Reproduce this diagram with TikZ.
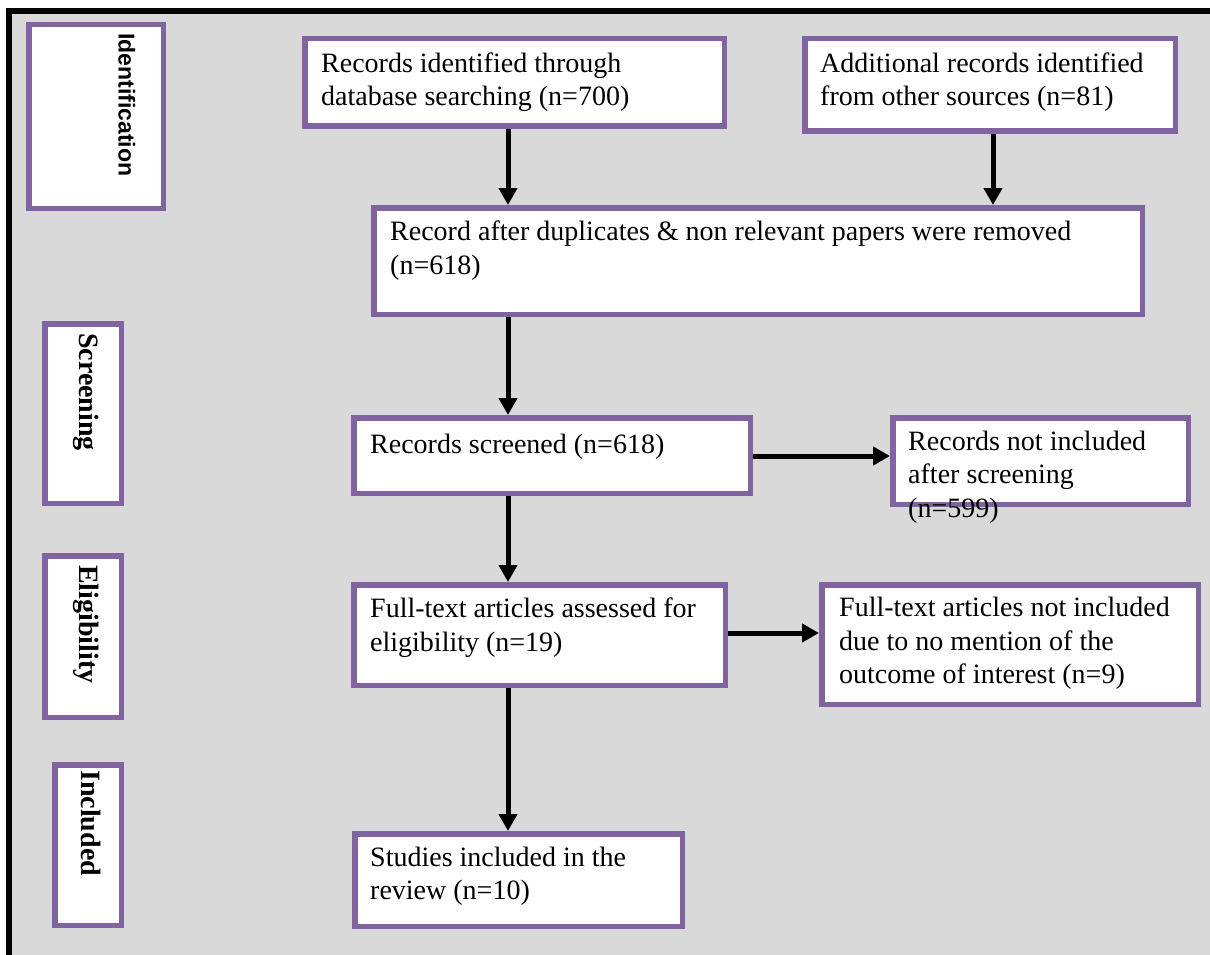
\documentclass[tikz,border=0pt]{standalone}
\usepackage{fontspec}
\setmainfont{Liberation Serif}
\newfontfamily\labsans{Liberation Sans}
\usetikzlibrary{fit,arrows.meta}
\definecolor{boxpurple}{RGB}{128,100,162}
\definecolor{bggray}{RGB}{217,217,217}
\newcommand{\boxtext}[1]{\begin{tabular}[t]{@{}l@{}}#1\end{tabular}}
\newcommand{\flowbox}[5]{\node[box, fit={(#2+2.75,#3+2.75) (#4-2.75,#5-2.75)}] (#1) {};}
\begin{document}
\begin{tikzpicture}[x=1pt,y=-1pt,
  box/.style={draw=boxpurple, line width=5.5pt, fill=white, inner sep=0pt},
  txt/.style={anchor=base west, inner sep=0pt, font=\fontsize{28}{33.5}\selectfont},
  flow/.style={line width=5pt, -{Triangle[width=18pt,length=17pt]}},
  stage/.style={anchor=base west, rotate=-90, inner sep=0pt, font=\fontsize{28}{33}\selectfont\bfseries},
  stagesans/.style={anchor=base west, rotate=-90, inner sep=0pt, font=\labsans\fontsize{23}{27}\selectfont\bfseries}
]
\useasboundingbox (0,0) rectangle (1210,955);
\fill[bggray] (6,8) rectangle (1210,955);
\draw[line width=6pt] (9,955) -- (9,11) -- (1210,11);

% stage boxes
\flowbox{sid}{26}{22}{166}{211}
\flowbox{sscr}{42}{321}{124}{506}
\flowbox{selig}{42}{553}{124}{720}
\flowbox{sincl}{52}{762}{124}{928}
\node[stagesans] (tid) at (118.5,33) {Identification};
\node[stage] (tscr) at (79,333) {Screening};
\node[stage] (telig) at (79,565) {Eligibility};
\node[stage] (tincl) at (81,770) {Included};

% flow boxes
\flowbox{b1}{302}{36}{727}{129}
\flowbox{b2}{802}{36}{1178}{134}
\flowbox{b3}{371}{205}{1145}{317}
\flowbox{b4}{351}{415}{753}{496}
\flowbox{b5}{890}{415}{1191}{507}
\flowbox{b6}{351}{582}{728}{688}
\flowbox{b7}{819}{582}{1201}{707}
\flowbox{b8}{352}{831}{685}{929}

\node[txt] (t1) at (321,72.5) {\boxtext{Records identified through\\database searching (n=700)}};
\node[txt] (t2) at (820,72.5) {\boxtext{Additional records identified\\from other sources (n=81)}};
\node[txt] (t3) at (390,240.5) {\boxtext{Record after duplicates \& non relevant papers were removed\\(n=618)}};
\node[txt] (t4) at (370,453) {Records screened (n=618)};
\node[txt] (t5) at (908,450) {\boxtext{Records not included\\after screening\\(n=599)}};
\node[txt] (t6) at (370,617.5) {\boxtext{Full-text articles assessed for\\eligibility (n=19)}};
\node[txt] (t7) at (839,616.7) {\boxtext{Full-text articles not included\\due to no mention of the\\outcome of interest (n=9)}};
\node[txt] (t8) at (370,866) {\boxtext{Studies included in the\\review (n=10)}};

% connectors
\coordinate (spine) at (508,0);
\coordinate (spine2) at (993,0);
\coordinate (row4) at (0,456);
\coordinate (row6) at (0,633);
\draw[flow] (b1.south -| spine) -- (b3.north -| spine);
\draw[flow] (b2.south -| spine2) -- (b3.north -| spine2);
\draw[flow] (b3.south -| spine) -- (b4.north -| spine);
\draw[flow] (b4.east |- row4) -- (b5.west |- row4);
\draw[flow] (b4.south -| spine) -- (b6.north -| spine);
\draw[flow] (b6.east |- row6) -- (b7.west |- row6);
\draw[flow] (b6.south -| spine) -- (b8.north -| spine);
\end{tikzpicture}
\end{document}
